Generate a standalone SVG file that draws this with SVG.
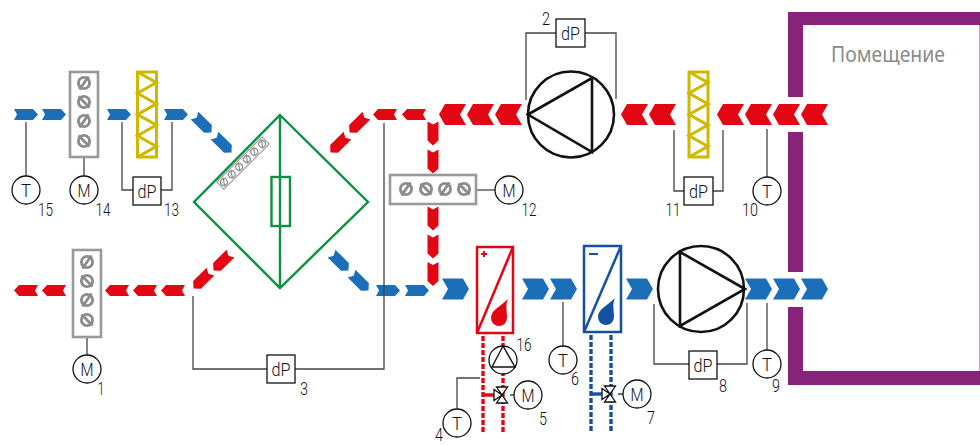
<svg xmlns="http://www.w3.org/2000/svg" xmlns:xlink="http://www.w3.org/1999/xlink" width="980" height="445" viewBox="0 0 980 445">
<style>
text{font-family:"Roboto","Liberation Sans",sans-serif;font-weight:300;fill:#111}
.l{font-size:18px;text-anchor:middle}
.n{font-size:18px;text-anchor:middle}
.w{fill:none;stroke:#444;stroke-width:1.3}
.c{fill:#fff;stroke:#111;stroke-width:1.3}
.r{fill:#e30613}.b{fill:#1b6fb9}
.d{fill:none;stroke:#8c8c8c;stroke-width:2.9}
.dr{fill:#fff;stroke:#999;stroke-width:2.6}
.f{fill:none;stroke:#d0b800;stroke-width:3}
.g{fill:none;stroke:#0a9142;stroke-width:2.4}
.fan{fill:none;stroke:#111;stroke-width:2.6}
.pr{fill:none;stroke:#e30613;stroke-width:3.4;stroke-dasharray:5 2}
.pb{fill:none;stroke:#1450a0;stroke-width:3.4;stroke-dasharray:5 2}
</style>
<defs>
<polygon id="s" points="-12,-5.500 7,-5.500 12,0 7,5.500 -12,5.500 -9,0"/>
<polygon id="B" points="-13.500,-10.500 7.500,-10.500 13.500,0 7.500,10.500 -13.500,10.500 -7.500,0"/>
<g id="da"><circle r="5.600" class="d"/><path d="M-4.500,6.500L4.500,-6.500" class="d"/></g>
<g id="db"><circle r="5.600" class="d"/><path d="M-5.500,-5.500L5.500,5.500" class="d"/></g>
<g id="sa"><circle r="3.400" fill="none" stroke="#8c8c8c" stroke-width="1.200"/><path d="M-2.600,3.600L2.600,-3.600" stroke="#8c8c8c" stroke-width="1.200"/></g>
<polyline id="zig" points="0,0 19,10.600 0,21.250 19,31.900 0,42.500 19,53.100 0,63.750 19,74.400 0,85" class="f"/>
<g id="valve"><path d="M0,0L-8,-5.500V5.500Z M0,0L-5.500,-8H5.500Z M0,0L-5.500,8H5.500Z" fill="#fff" stroke="#111" stroke-width="1.300"/></g>
</defs>

<g id="room">
<path d="M788,97V12H980V25H803V97Z M788,132H803V272H788Z M788,307H803V371H980V385H788Z" fill="#87247a"/>
<rect x="979" y="25" width="1" height="346" fill="#c9a3c4"/>
<text x="831" y="62" font-size="21" textLength="114" lengthAdjust="spacingAndGlyphs" style="font-family:'Noto Sans','Liberation Sans',sans-serif;font-weight:400;fill:#8a8a8a">Помещение</text>
</g>

<g id="connectors">
<g id="air-blue">
<use href="#s" class="b" x="26" y="114.500"/><use href="#s" class="b" x="54" y="114.500"/>
<use href="#s" class="b" x="119" y="114.500"/><use href="#s" class="b" x="176" y="114.500"/>
<use href="#s" class="b" transform="translate(203,124) rotate(45)"/><use href="#s" class="b" transform="translate(223,144) rotate(45)"/>
<use href="#s" class="b" transform="translate(340,262) rotate(45)"/><use href="#s" class="b" transform="translate(360,282) rotate(45)"/>
<use href="#s" class="b" x="388" y="290.500"/><use href="#s" class="b" x="417" y="290.500"/>
<use href="#B" class="b" x="455.500" y="289"/><use href="#B" class="b" x="535.500" y="289"/><use href="#B" class="b" x="563.500" y="289"/><use href="#B" class="b" x="639.500" y="289"/>
<use href="#B" class="b" x="758.500" y="289"/><use href="#B" class="b" x="786.500" y="289"/><use href="#B" class="b" x="814.500" y="289"/>
</g>
<g id="air-red">
<use href="#s" class="r" transform="translate(26,290.500) rotate(180)"/><use href="#s" class="r" transform="translate(54,290.500) rotate(180)"/>
<use href="#s" class="r" transform="translate(117,290.500) rotate(180)"/><use href="#s" class="r" transform="translate(145,290.500) rotate(180)"/><use href="#s" class="r" transform="translate(173,290.500) rotate(180)"/>
<use href="#s" class="r" transform="translate(202,280) rotate(135)"/><use href="#s" class="r" transform="translate(222,262) rotate(135)"/>
<use href="#s" class="r" transform="translate(339,144) rotate(135)"/><use href="#s" class="r" transform="translate(358,124) rotate(135)"/>
<use href="#s" class="r" transform="translate(385,114.500) rotate(180)"/><use href="#s" class="r" transform="translate(414,114.500) rotate(180)"/>
<use href="#s" class="r" transform="translate(433,133.500) rotate(90)"/><use href="#s" class="r" transform="translate(433,161.500) rotate(90)"/>
<use href="#s" class="r" transform="translate(433,218.500) rotate(90)"/><use href="#s" class="r" transform="translate(433,246.500) rotate(90)"/><use href="#s" class="r" transform="translate(433,274) rotate(90)"/>
<use href="#B" class="r" transform="translate(452.500,114.500) rotate(180)"/><use href="#B" class="r" transform="translate(480.500,114.500) rotate(180)"/><use href="#B" class="r" transform="translate(508.500,114.500) rotate(180)"/>
<use href="#B" class="r" transform="translate(634.500,114.500) rotate(180)"/><use href="#B" class="r" transform="translate(662.500,114.500) rotate(180)"/>
<use href="#B" class="r" transform="translate(730.500,114.500) rotate(180)"/><use href="#B" class="r" transform="translate(758.500,114.500) rotate(180)"/><use href="#B" class="r" transform="translate(786.500,114.500) rotate(180)"/><use href="#B" class="r" transform="translate(814.500,114.500) rotate(180)"/>
</g>
<g id="wires">
<path class="w" d="M26,122V176M84,157V176M122,122V190H133M161,190H172V122"/>
<path class="w" d="M87,337V355M193,296V369H267M295,369H384V123"/>
<path class="w" d="M476,190H495"/>
<path class="w" d="M526,100V33H556M585,33H616V99"/>
<path class="w" d="M674,130V191H684M713,191H723V130M767,129V177"/>
<path class="w" d="M654,304V364H689M717,364H747V303M767,303V350M563,302V346"/>
<path class="w" d="M457,409V378H480M510,395H514M618,394H623"/>
</g>
<g id="pipes">
<path class="pr" d="M483,336V433M503,336V433"/>
<path d="M483,395H494" stroke="#e30613" stroke-width="3.400"/>
<path class="pb" d="M591,335V432M611,335V432"/>
<path d="M591,394H602" stroke="#1450a0" stroke-width="3.400"/>
</g>
</g>

<g id="sensor-15"><circle class="c" cx="26" cy="190" r="14"/><text class="l" x="26" y="196.500" textLength="10" lengthAdjust="spacingAndGlyphs">T</text><text class="n" x="45.500" y="216" textLength="15" lengthAdjust="spacingAndGlyphs">15</text></g>
<g id="damper-14"><rect class="dr" x="70" y="72" width="28" height="85"/><use href="#da" x="84" y="83"/><use href="#db" x="84" y="102"/><use href="#da" x="84" y="121"/><use href="#db" x="84" y="141"/><circle class="c" cx="84" cy="190" r="14"/><text class="l" x="84" y="196.500" textLength="13" lengthAdjust="spacingAndGlyphs">M</text><text class="n" x="103" y="216" textLength="15" lengthAdjust="spacingAndGlyphs">14</text></g>
<g id="filter-13"><rect class="f" x="137.500" y="72" width="19" height="85"/><use href="#zig" x="137.500" y="72"/><rect x="133" y="177" width="28" height="28" class="c"/><text class="l" x="147" y="197.500" textLength="19" lengthAdjust="spacingAndGlyphs">dP</text><text class="n" x="171.500" y="216" textLength="15" lengthAdjust="spacingAndGlyphs">13</text></g>
<g id="damper-1"><rect class="dr" x="73" y="250" width="28" height="87"/><use href="#da" x="87" y="262"/><use href="#db" x="87" y="281"/><use href="#da" x="87" y="300"/><use href="#db" x="87" y="320"/><circle class="c" cx="87" cy="369" r="14"/><text class="l" x="87" y="375.500" textLength="13" lengthAdjust="spacingAndGlyphs">M</text><text class="n" x="101" y="395" textLength="7" lengthAdjust="spacingAndGlyphs">1</text></g>
<g id="dp-3"><rect x="267" y="355" width="28" height="28" class="c"/><text class="l" x="281" y="375.500" textLength="19" lengthAdjust="spacingAndGlyphs">dP</text><text class="n" x="304" y="395" textLength="8" lengthAdjust="spacingAndGlyphs">3</text></g>
<g id="exchanger">
<rect x="-32" y="-5" width="64" height="10" fill="#fff" stroke="#a0a0a0" stroke-width="1.200" transform="translate(243,163) rotate(-45)"/>
<g transform="translate(243,163) rotate(-45)"><use href="#sa" x="-27"/><use href="#sa" x="-16"/><use href="#sa" x="-5.500"/><use href="#sa" x="5.500"/><use href="#sa" x="16"/><use href="#sa" x="27"/></g>
<path class="g" d="M280,115L368,202L280,288L194,202Z M280,115V288"/>
<rect class="g" x="271.500" y="177" width="18.500" height="49"/>
</g>
<g id="damper-12"><rect class="dr" x="390" y="175" width="86" height="29"/><use href="#da" x="406" y="189"/><use href="#db" x="426" y="189"/><use href="#da" x="445" y="189"/><use href="#db" x="464" y="189"/><circle class="c" cx="509" cy="190" r="14"/><text class="l" x="509" y="196.500" textLength="13" lengthAdjust="spacingAndGlyphs">M</text><text class="n" x="529" y="216" textLength="15" lengthAdjust="spacingAndGlyphs">12</text></g>
<g id="fan-2"><rect x="556" y="19" width="29" height="28" class="c"/><text class="l" x="570.500" y="39.500" textLength="19" lengthAdjust="spacingAndGlyphs">dP</text><text class="n" x="546" y="25" textLength="8" lengthAdjust="spacingAndGlyphs">2</text><circle class="fan" cx="571" cy="114.500" r="43"/><path class="fan" d="M528,114.500L592,78V152Z"/></g>
<g id="filter-11"><rect class="f" x="689" y="72" width="19" height="85"/><use href="#zig" x="689" y="72"/><rect x="684" y="177" width="29" height="28" class="c"/><text class="l" x="698.500" y="197.500" textLength="19" lengthAdjust="spacingAndGlyphs">dP</text><text class="n" x="673" y="216" textLength="15" lengthAdjust="spacingAndGlyphs">11</text></g>
<g id="sensor-10"><circle class="c" cx="767" cy="191" r="14"/><text class="l" x="767" y="197.500" textLength="10" lengthAdjust="spacingAndGlyphs">T</text><text class="n" x="750" y="216" textLength="16" lengthAdjust="spacingAndGlyphs">10</text></g>
<g id="heater-16">
<rect x="477" y="247" width="36" height="86" fill="#fff" stroke="#e30613" stroke-width="2.500"/>
<path d="M513,247L477,333" stroke="#e30613" stroke-width="2.500"/>
<path d="M484,251V257M481,254H487" stroke="#e30613" stroke-width="2"/>
<path d="M508,299C505,306 507,309 507,318A8,8 0 1 1 491,318C491,310 500,307 508,299Z" fill="#e30613"/>
<circle class="c" cx="503" cy="360" r="14"/><path d="M503,346L492,367H515Z" fill="none" stroke="#111" stroke-width="1.400"/>
<text class="n" x="524" y="351" textLength="15" lengthAdjust="spacingAndGlyphs">16</text>
</g>
<g id="valve-5"><use href="#valve" x="502" y="395"/><circle class="c" cx="528" cy="395" r="14"/><text class="l" x="528" y="401.500" textLength="13" lengthAdjust="spacingAndGlyphs">M</text><text class="n" x="543" y="425" textLength="8" lengthAdjust="spacingAndGlyphs">5</text></g>
<g id="sensor-4"><circle class="c" cx="457" cy="423" r="14"/><text class="l" x="457" y="429.500" textLength="10" lengthAdjust="spacingAndGlyphs">T</text><text class="n" x="439" y="441" textLength="8" lengthAdjust="spacingAndGlyphs">4</text></g>
<g id="sensor-6"><circle class="c" cx="563" cy="360" r="14"/><text class="l" x="563" y="366.500" textLength="10" lengthAdjust="spacingAndGlyphs">T</text><text class="n" x="575" y="385" textLength="8" lengthAdjust="spacingAndGlyphs">6</text></g>
<g id="cooler-7">
<rect x="584" y="246" width="37" height="86" fill="#fff" stroke="#1450a0" stroke-width="2.500"/>
<path d="M621,246L584,332" stroke="#1450a0" stroke-width="2.500"/>
<path d="M589,254H598" stroke="#1450a0" stroke-width="2"/>
<path d="M615,298C612,305 614,308 614,317A8,8 0 1 1 598,317C598,309 607,306 615,298Z" fill="#1450a0"/>
<use href="#valve" x="610" y="394"/><circle class="c" cx="637" cy="394" r="14"/><text class="l" x="637" y="400.500" textLength="13" lengthAdjust="spacingAndGlyphs">M</text><text class="n" x="651" y="424" textLength="8" lengthAdjust="spacingAndGlyphs">7</text>
</g>
<g id="fan-8"><circle class="fan" cx="701" cy="289" r="43"/><path class="fan" d="M745,289L680,252V326Z"/><rect x="689" y="351" width="28" height="28" class="c"/><text class="l" x="703" y="371.500" textLength="19" lengthAdjust="spacingAndGlyphs">dP</text><text class="n" x="723" y="392" textLength="8" lengthAdjust="spacingAndGlyphs">8</text></g>
<g id="sensor-9"><circle class="c" cx="767" cy="364" r="14"/><text class="l" x="767" y="370.500" textLength="10" lengthAdjust="spacingAndGlyphs">T</text><text class="n" x="776" y="392" textLength="8" lengthAdjust="spacingAndGlyphs">9</text></g>
</svg>
